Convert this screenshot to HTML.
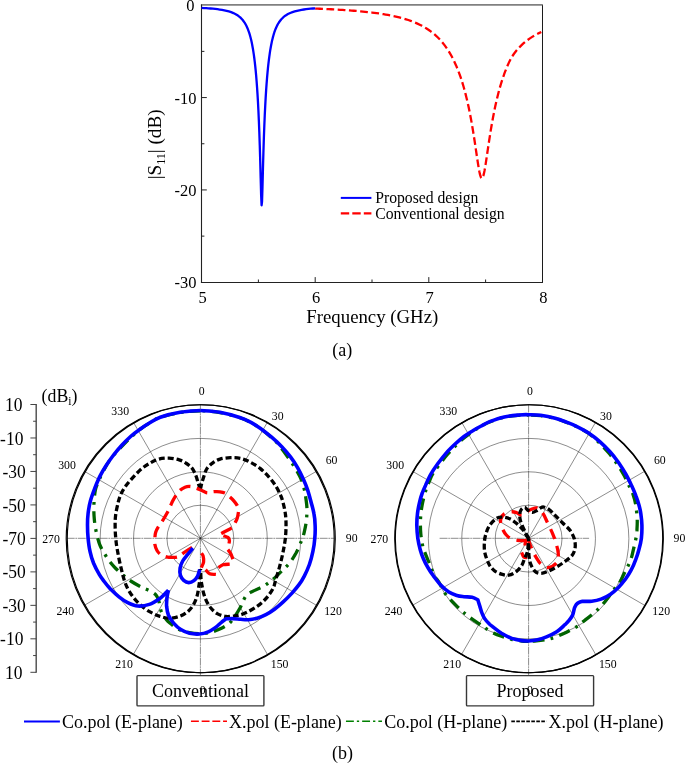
<!DOCTYPE html>
<html><head><meta charset="utf-8"><title>figure</title>
<style>html,body{margin:0;padding:0;background:#fff;}body{width:685px;height:764px;overflow:hidden;position:relative;font-family:"Liberation Serif",serif;}</style></head>
<body>
<svg width="685" height="764" viewBox="0 0 685 764" style="position:absolute;left:0;top:0;will-change:transform" font-family="'Liberation Serif', serif" fill="#000">
<rect width="685" height="764" fill="#fff"/>
<line x1="200.9" y1="4.95" x2="542.9" y2="4.95" stroke="#808080" stroke-width="1.7"/>
<line x1="542.5" y1="5.2" x2="542.5" y2="282.90000000000003" stroke="#1c1c1c" stroke-width="1.0"/>
<line x1="201.5" y1="4.5" x2="201.5" y2="283.05" stroke="#222" stroke-width="1.1"/>
<line x1="200.95" y1="282.5" x2="543.0" y2="282.5" stroke="#222" stroke-width="1.1"/>
<line x1="201.6" y1="51.38" x2="204.4" y2="51.38" stroke="#222" stroke-width="1"/>
<line x1="201.6" y1="97.57" x2="206.79999999999998" y2="97.57" stroke="#222" stroke-width="1"/>
<line x1="201.6" y1="143.75" x2="204.4" y2="143.75" stroke="#222" stroke-width="1"/>
<line x1="201.6" y1="189.93" x2="206.79999999999998" y2="189.93" stroke="#222" stroke-width="1"/>
<line x1="201.6" y1="236.12" x2="204.4" y2="236.12" stroke="#222" stroke-width="1"/>
<line x1="258.40" y1="282.3" x2="258.40" y2="279.5" stroke="#222" stroke-width="1"/>
<line x1="315.20" y1="282.3" x2="315.20" y2="277.1" stroke="#222" stroke-width="1"/>
<line x1="372.00" y1="282.3" x2="372.00" y2="279.5" stroke="#222" stroke-width="1"/>
<line x1="428.80" y1="282.3" x2="428.80" y2="277.1" stroke="#222" stroke-width="1"/>
<line x1="485.60" y1="282.3" x2="485.60" y2="279.5" stroke="#222" stroke-width="1"/>
<text transform="translate(194.40,11.20) scale(1,1.065)" font-size="16.5" text-anchor="end">0</text>
<text transform="translate(196.60,103.57) scale(1,1.065)" font-size="16.5" text-anchor="end">-10</text>
<text transform="translate(196.60,195.93) scale(1,1.065)" font-size="16.5" text-anchor="end">-20</text>
<text transform="translate(196.60,288.30) scale(1,1.065)" font-size="16.5" text-anchor="end">-30</text>
<text transform="translate(202.50,302.50) scale(1,1.065)" font-size="16.5" text-anchor="middle">5</text>
<text transform="translate(316.10,302.50) scale(1,1.065)" font-size="16.5" text-anchor="middle">6</text>
<text transform="translate(429.70,302.50) scale(1,1.065)" font-size="16.5" text-anchor="middle">7</text>
<text transform="translate(543.30,302.50) scale(1,1.065)" font-size="16.5" text-anchor="middle">8</text>
<text x="372.3" y="322.8" font-size="18.8" text-anchor="middle">Frequency (GHz)</text>
<text transform="translate(161,144.3) rotate(-90)" font-size="19.2" text-anchor="middle">|S<tspan font-size="12" dy="3.5">11</tspan><tspan dy="-3.5">| (dB)</tspan></text>
<text x="342.2" y="355.9" font-size="18" text-anchor="middle">(a)</text>
<path d="M315.20,8.56L317.47,8.65L319.74,8.75L322.02,8.84L324.29,8.94L326.56,9.05L328.83,9.16L331.10,9.27L333.38,9.39L335.65,9.52L337.92,9.65L340.19,9.78L342.46,9.92L344.74,10.07L347.01,10.23L349.28,10.39L351.55,10.56L353.82,10.74L356.10,10.93L358.37,11.12L360.64,11.33L362.91,11.55L365.18,11.78L367.46,12.02L369.73,12.28L372.00,12.55L374.27,12.83L376.54,13.13L378.82,13.45L381.09,13.79L383.36,14.15L385.63,14.53L387.90,14.93L390.18,15.36L392.45,15.82L394.72,16.30L396.99,16.82L399.26,17.38L401.54,17.98L403.81,18.61L406.08,19.30L408.35,20.03L410.62,20.82L412.90,21.68L415.17,22.59L417.44,23.59L419.71,24.66L421.98,25.83L424.26,27.09L426.53,28.47L428.80,29.96L431.07,31.60L433.34,33.39L435.62,35.35L437.89,37.50L440.16,39.86L442.43,42.47L444.70,45.36L446.98,48.55L449.25,52.10L451.52,56.04L453.79,60.45L456.06,65.40L458.34,70.95L460.61,77.23L461.18,78.92L461.74,80.67L462.31,82.47L462.88,84.34L463.45,86.26L464.02,88.25L464.58,90.31L465.15,92.44L465.72,94.64L466.29,96.92L466.86,99.27L467.42,101.71L467.99,104.24L468.56,106.86L469.13,109.56L469.70,112.37L470.26,115.27L470.83,118.28L471.40,121.40L471.97,124.62L472.54,127.94L473.10,131.38L473.67,134.92L474.24,138.55L474.81,142.28L475.38,146.08L475.94,149.93L476.51,153.79L477.08,157.64L477.65,161.42L478.22,165.04L478.78,168.44L479.35,171.51L479.92,174.14L480.49,176.21L481.06,177.63L481.62,178.33L482.19,178.25L482.76,177.41L483.33,175.85L483.90,173.65L484.46,170.93L485.03,167.79L485.60,164.33L486.17,160.67L486.74,156.88L487.30,153.02L487.87,149.15L488.44,145.31L489.01,141.53L489.58,137.82L490.14,134.20L490.71,130.68L491.28,127.27L491.85,123.96L492.42,120.76L492.98,117.67L493.55,114.69L494.12,111.80L494.69,109.01L495.26,106.32L495.82,103.73L496.39,101.22L496.96,98.80L497.53,96.46L498.10,94.20L498.66,92.01L499.23,89.90L499.80,87.85L500.37,85.87L500.94,83.96L501.50,82.11L502.07,80.31L502.64,78.58L503.21,76.89L503.78,75.26L504.34,73.68L504.91,72.15L507.18,66.46L509.46,61.40L511.73,57.05L514.00,53.77L516.27,50.83L518.54,48.20L520.82,45.83L523.09,43.68L525.36,41.74L527.63,39.96L529.90,38.34L532.18,36.86L534.45,35.50L536.72,34.25L538.99,33.09L541.26,32.02" fill="none" stroke="#f00" stroke-width="2.3" stroke-dasharray="7.74 3.52"/>
<path d="M201.60,7.91L203.87,8.04L206.14,8.18L208.42,8.34L210.69,8.52L212.96,8.72L215.23,8.95L217.50,9.22L219.78,9.54L222.05,9.90L224.32,10.33L226.59,10.83L228.86,11.44L231.14,12.18L233.41,13.08L235.68,14.20L237.95,15.60L240.22,17.41L242.50,19.76L244.77,22.90L245.22,23.65L245.68,24.45L246.13,25.30L246.59,26.21L247.04,27.18L247.49,28.22L247.95,29.33L248.40,30.53L248.86,31.81L249.31,33.18L249.77,34.67L250.22,36.26L250.68,37.99L251.13,39.85L251.58,41.87L252.04,44.05L252.49,46.43L252.95,49.01L253.40,51.82L253.86,54.90L254.31,58.26L254.76,61.95L255.22,66.00L255.67,70.47L256.13,75.42L256.58,80.92L257.04,87.04L257.49,93.90L257.95,101.64L258.40,110.41L258.85,120.43L259.31,131.96L259.76,145.30L260.22,160.69L260.67,177.92L261.13,194.94L261.58,205.32L262.04,201.55L262.49,186.73L262.94,169.13L263.40,152.73L263.85,138.38L264.31,125.99L264.76,115.25L265.22,105.88L265.67,97.65L266.12,90.37L266.58,83.89L267.03,78.10L267.49,72.88L267.94,68.18L268.40,63.93L268.85,60.06L269.31,56.54L269.76,53.33L270.21,50.39L270.67,47.69L271.12,45.22L271.58,42.94L272.03,40.84L272.49,38.90L272.94,37.11L273.40,35.45L273.85,33.91L274.30,32.48L274.76,31.15L275.21,29.92L275.67,28.77L276.12,27.69L276.58,26.69L277.03,25.75L277.48,24.87L277.94,24.04L278.39,23.27L278.85,22.54L281.12,19.50L283.39,17.21L285.66,15.45L287.94,14.07L290.21,12.98L292.48,12.10L294.75,11.38L297.02,10.78L299.30,10.28L301.57,9.86L303.84,9.50L306.11,9.19L308.38,8.93L310.66,8.70L312.93,8.50L315.20,8.32" fill="none" stroke="#00f" stroke-width="2.3" stroke-linejoin="round"/>
<line x1="340.8" y1="197.9" x2="371.4" y2="197.9" stroke="#00f" stroke-width="2"/>
<line x1="340.8" y1="213.4" x2="371.4" y2="213.4" stroke="#f00" stroke-width="2.3" stroke-dasharray="8.4 3.1"/>
<text x="375.2" y="203" font-size="15.7">Proposed design</text>
<text x="375.2" y="218.8" font-size="15.7">Conventional design</text>
<line x1="36.2" y1="404.0" x2="36.2" y2="672.8" stroke="#4a4a4a" stroke-width="1.4"/>
<line x1="30.400000000000002" y1="404.50" x2="36.2" y2="404.50" stroke="#444" stroke-width="1"/>
<text transform="translate(22.50,411.10) scale(1,1.12)" font-size="17.5" text-anchor="end">10</text>
<line x1="33.1" y1="421.24" x2="36.2" y2="421.24" stroke="#444" stroke-width="1"/>
<line x1="30.400000000000002" y1="437.98" x2="36.2" y2="437.98" stroke="#444" stroke-width="1"/>
<text transform="translate(23.40,444.58) scale(1,1.12)" font-size="17.5" text-anchor="end">-10</text>
<line x1="33.1" y1="454.71" x2="36.2" y2="454.71" stroke="#444" stroke-width="1"/>
<line x1="30.400000000000002" y1="471.45" x2="36.2" y2="471.45" stroke="#444" stroke-width="1"/>
<text transform="translate(25.80,478.05) scale(1,1.12)" font-size="17.5" text-anchor="end">-30</text>
<line x1="33.1" y1="488.19" x2="36.2" y2="488.19" stroke="#444" stroke-width="1"/>
<line x1="30.400000000000002" y1="504.92" x2="36.2" y2="504.92" stroke="#444" stroke-width="1"/>
<text transform="translate(25.80,511.52) scale(1,1.12)" font-size="17.5" text-anchor="end">-50</text>
<line x1="33.1" y1="521.66" x2="36.2" y2="521.66" stroke="#444" stroke-width="1"/>
<line x1="30.400000000000002" y1="538.40" x2="36.2" y2="538.40" stroke="#444" stroke-width="1"/>
<text transform="translate(25.80,545.00) scale(1,1.12)" font-size="17.5" text-anchor="end">-70</text>
<line x1="33.1" y1="555.14" x2="36.2" y2="555.14" stroke="#444" stroke-width="1"/>
<line x1="30.400000000000002" y1="571.88" x2="36.2" y2="571.88" stroke="#444" stroke-width="1"/>
<text transform="translate(25.80,578.48) scale(1,1.12)" font-size="17.5" text-anchor="end">-50</text>
<line x1="33.1" y1="588.61" x2="36.2" y2="588.61" stroke="#444" stroke-width="1"/>
<line x1="30.400000000000002" y1="605.35" x2="36.2" y2="605.35" stroke="#444" stroke-width="1"/>
<text transform="translate(25.80,611.95) scale(1,1.12)" font-size="17.5" text-anchor="end">-30</text>
<line x1="33.1" y1="622.09" x2="36.2" y2="622.09" stroke="#444" stroke-width="1"/>
<line x1="30.400000000000002" y1="638.82" x2="36.2" y2="638.82" stroke="#444" stroke-width="1"/>
<text transform="translate(23.40,645.42) scale(1,1.12)" font-size="17.5" text-anchor="end">-10</text>
<line x1="33.1" y1="655.56" x2="36.2" y2="655.56" stroke="#444" stroke-width="1"/>
<line x1="30.400000000000002" y1="672.30" x2="36.2" y2="672.30" stroke="#444" stroke-width="1"/>
<text transform="translate(22.50,678.90) scale(1,1.12)" font-size="17.5" text-anchor="end">10</text>
<text x="41.6" y="401.8" font-size="17.8">(dB<tspan font-size="11.5" dy="2.8">i</tspan><tspan dy="-2.8">)</tspan></text>
<circle cx="200.4" cy="538.65" r="33.42" fill="none" stroke="#1a1a1a" stroke-width="0.5"/>
<circle cx="200.4" cy="538.65" r="66.85" fill="none" stroke="#1a1a1a" stroke-width="0.5"/>
<circle cx="200.4" cy="538.65" r="100.27" fill="none" stroke="#1a1a1a" stroke-width="0.5"/>
<line x1="200.4" y1="404.59999999999997" x2="200.4" y2="675.0" stroke="#1a1a1a" stroke-width="0.5" stroke-dasharray="8 0.7 1.6 0.7"/>
<line x1="133.55" y1="654.09" x2="267.25" y2="422.51" stroke="#1a1a1a" stroke-width="0.5"/>
<line x1="84.61" y1="605.15" x2="316.19" y2="471.45" stroke="#1a1a1a" stroke-width="0.5"/>
<line x1="66.70" y1="538.30" x2="334.10" y2="538.30" stroke="#1a1a1a" stroke-width="0.5" stroke-dasharray="8 0.7 1.6 0.7"/>
<line x1="84.61" y1="471.45" x2="316.19" y2="605.15" stroke="#1a1a1a" stroke-width="0.5"/>
<line x1="133.55" y1="422.51" x2="267.25" y2="654.09" stroke="#1a1a1a" stroke-width="0.5"/>
<circle cx="200.21" cy="538.75" r="134.0" fill="none" stroke="#000" stroke-width="1.15"/>
<circle cx="201.26" cy="538.75" r="134.0" fill="none" stroke="#000" stroke-width="1.15"/>
<circle cx="528.6" cy="538.65" r="33.42" fill="none" stroke="#1a1a1a" stroke-width="0.5"/>
<circle cx="528.6" cy="538.65" r="66.85" fill="none" stroke="#1a1a1a" stroke-width="0.5"/>
<circle cx="528.6" cy="538.65" r="100.27" fill="none" stroke="#1a1a1a" stroke-width="0.5"/>
<line x1="528.6" y1="404.59999999999997" x2="528.6" y2="675.0" stroke="#1a1a1a" stroke-width="0.5" stroke-dasharray="8 0.7 1.6 0.7"/>
<line x1="461.75" y1="654.09" x2="595.45" y2="422.51" stroke="#1a1a1a" stroke-width="0.5"/>
<line x1="412.81" y1="605.15" x2="644.39" y2="471.45" stroke="#1a1a1a" stroke-width="0.5"/>
<line x1="439.6" y1="538.3" x2="589.1" y2="538.3" stroke="#1a1a1a" stroke-width="0.5" stroke-dasharray="8 0.7 1.6 0.7"/>
<line x1="412.81" y1="471.45" x2="644.39" y2="605.15" stroke="#1a1a1a" stroke-width="0.5"/>
<line x1="461.75" y1="422.51" x2="595.45" y2="654.09" stroke="#1a1a1a" stroke-width="0.5"/>
<circle cx="528.73" cy="538.75" r="134.0" fill="none" stroke="#000" stroke-width="1.15"/>
<circle cx="529.33" cy="538.75" r="134.0" fill="none" stroke="#000" stroke-width="1.15"/>
<path d="M200.4,410.8C207.1,410.8 213.4,411.4 220.0,412.6C226.6,413.8 234.7,416.1 240.0,417.8C245.3,419.5 248.0,420.9 251.7,422.9C255.3,424.9 258.7,427.2 261.9,429.6C265.1,432.0 268.6,435.1 271.0,437.2C273.4,439.3 273.9,439.2 276.5,442.3C279.1,445.4 283.5,451.1 286.7,455.5C289.9,459.9 293.1,464.6 295.5,468.6C297.9,472.6 299.9,476.2 301.3,479.6C302.8,483.0 303.5,486.5 304.2,489.1C304.9,491.7 304.9,491.9 305.4,495.0C305.8,498.1 306.7,503.2 306.9,507.5C307.1,511.8 306.8,516.6 306.4,520.7C305.9,524.8 305.0,528.9 304.2,532.3C303.4,535.7 302.6,537.7 301.3,541.1C300.0,544.5 298.1,549.1 296.2,552.8C294.2,556.4 291.9,560.1 289.6,563.0C287.3,565.9 284.7,567.9 282.3,570.3C279.9,572.7 277.1,575.6 275.0,577.6C272.9,579.6 271.5,580.5 269.5,582.0C267.5,583.5 265.7,585.0 263.0,586.5C260.3,588.0 256.2,589.4 253.5,590.9C250.8,592.4 248.4,593.4 246.6,595.3C244.8,597.2 243.6,600.4 242.5,602.5C241.4,604.6 241.3,605.7 240.0,608.0C238.7,610.3 236.6,613.9 234.7,616.5C232.8,619.1 231.5,621.6 228.8,623.8C226.1,626.0 221.8,628.1 218.6,629.6C215.4,631.1 213.1,631.9 209.9,632.6C206.7,633.3 203.0,633.7 199.6,633.7C196.2,633.7 192.8,633.3 189.4,632.6C186.0,631.9 182.5,631.2 179.2,629.6C175.9,628.0 171.7,624.6 169.5,622.8C167.3,621.0 167.2,620.6 165.8,618.8C164.5,617.0 162.4,614.1 161.4,611.8C160.4,609.5 160.2,606.9 159.7,604.8C159.2,602.7 158.9,600.8 158.2,599.0C157.5,597.2 156.7,595.6 155.3,594.3C153.9,593.0 152.2,592.2 150.0,591.0C147.8,589.8 144.9,588.9 141.8,587.3C138.7,585.7 134.4,583.4 131.5,581.5C128.6,579.6 127.1,578.6 124.2,576.1C121.3,573.6 116.9,569.8 114.0,566.6C111.1,563.5 109.0,560.7 106.7,557.2C104.4,553.7 101.8,549.5 100.1,545.5C98.4,541.5 97.5,537.5 96.5,533.1C95.5,528.7 94.7,524.0 94.3,519.2C93.9,514.5 93.7,509.5 93.9,504.6C94.1,499.7 94.6,493.9 95.4,490.0C96.2,486.1 97.3,484.3 98.7,481.0C100.1,477.7 101.7,473.9 103.8,470.1C105.9,466.3 107.7,462.8 111.1,458.4C114.5,454.0 120.9,447.3 124.2,443.8C127.5,440.3 128.4,439.6 131.0,437.2C133.6,434.8 136.6,431.9 139.6,429.6C142.6,427.3 145.6,425.3 149.0,423.3C152.4,421.3 154.8,419.3 160.0,417.5C165.2,415.7 173.3,413.7 180.0,412.6C186.7,411.5 193.7,410.8 200.4,410.8Z" fill="none" stroke="#006400" stroke-width="3.3" stroke-dasharray="11.7 6.4 2.8 6.3" stroke-dashoffset="16"/>
<path d="M200.3,489.4C200.0,488.4 198.9,485.4 198.2,483.2C197.5,480.9 197.0,478.3 196.0,475.9C195.0,473.5 193.9,470.7 192.3,468.6C190.7,466.5 188.7,464.9 186.5,463.5C184.3,462.1 182.1,460.8 179.2,459.9C176.3,459.0 172.4,458.2 169.0,458.1C165.6,458.0 161.9,458.3 158.8,459.1C155.7,459.9 153.1,461.3 150.3,462.9C147.5,464.5 144.7,466.2 141.8,468.6C138.9,471.0 135.7,474.5 133.0,477.4C130.3,480.3 127.7,483.4 125.7,486.1C123.8,488.8 122.5,490.8 121.3,493.4C120.1,496.0 119.4,497.7 118.4,501.5C117.4,505.3 116.0,511.6 115.5,516.3C115.0,520.9 115.1,525.0 115.2,529.4C115.3,533.8 115.7,538.2 116.2,542.6C116.7,547.0 117.6,551.3 118.4,555.7C119.2,560.1 120.3,564.8 121.3,568.8C122.3,572.8 123.0,576.4 124.2,580.0C125.4,583.6 126.6,586.8 128.6,590.2C130.5,593.6 133.2,597.4 135.9,600.4C138.6,603.4 141.8,606.3 144.7,608.5C147.6,610.7 150.8,612.3 153.4,613.6C156.0,614.9 157.4,615.5 160.0,616.3C162.6,617.1 165.8,618.2 169.0,618.2C172.2,618.2 176.0,617.6 179.2,616.5C182.4,615.4 185.6,613.5 188.0,611.4C190.4,609.3 192.2,606.9 193.8,604.1C195.4,601.3 196.6,597.7 197.4,594.6C198.2,591.5 198.5,588.2 198.9,585.8C199.3,583.4 199.5,582.8 199.7,580.0C199.9,577.2 200.1,570.8 200.2,569.0" fill="none" stroke="#000" stroke-width="3.3" stroke-dasharray="5.9 2.9"/>
<path d="M200.3,489.4C200.6,488.4 201.2,485.4 201.8,483.2C202.4,480.9 203.2,478.3 204.0,475.9C204.8,473.5 205.4,470.8 206.9,468.6C208.4,466.4 210.6,464.4 212.8,462.8C215.0,461.2 217.2,460.0 220.1,459.1C223.0,458.2 226.9,457.8 230.3,457.7C233.7,457.6 237.2,457.7 240.5,458.4C243.8,459.1 246.7,460.3 250.0,462.0C253.3,463.7 257.2,466.0 260.4,468.6C263.6,471.2 266.6,474.5 269.2,477.4C271.8,480.3 274.0,483.3 275.8,486.1C277.6,488.9 278.9,491.6 280.1,494.2C281.3,496.8 281.9,498.1 282.8,501.5C283.7,504.9 285.0,510.4 285.5,514.8C286.0,519.2 286.1,523.6 286.0,528.0C285.9,532.4 285.6,536.7 285.0,541.1C284.4,545.5 283.5,549.8 282.6,554.2C281.7,558.6 280.5,563.2 279.4,567.4C278.3,571.6 276.8,576.2 275.8,579.5C274.8,582.8 274.7,584.8 273.6,587.3C272.5,589.8 270.9,592.3 269.2,594.6C267.5,596.9 265.6,599.1 263.4,601.2C261.2,603.3 258.8,605.2 256.1,607.0C253.4,608.8 250.0,610.8 247.3,612.1C244.6,613.4 242.1,614.4 240.0,615.0C237.9,615.6 237.0,615.5 234.7,615.8C232.3,616.0 228.8,616.9 225.9,616.5C223.0,616.1 219.6,614.9 217.2,613.6C214.8,612.3 213.0,610.5 211.3,608.5C209.6,606.5 208.1,604.2 206.9,601.9C205.7,599.6 204.8,597.0 204.0,594.6C203.2,592.2 202.8,589.7 202.3,587.3C201.8,584.9 201.4,583.0 201.1,580.0C200.8,577.0 200.7,570.8 200.6,569.0" fill="none" stroke="#000" stroke-width="3.3" stroke-dasharray="5.9 2.9"/>
<path d="M200.4,489.8C199.8,489.6 198.4,488.9 196.7,488.4C195.0,487.8 192.2,486.7 190.3,486.5C188.4,486.3 186.8,486.5 185.0,487.2C183.2,487.9 181.2,489.2 179.7,490.6C178.2,492.0 177.0,493.9 175.8,495.6C174.7,497.3 173.7,499.0 172.8,500.8C171.9,502.6 171.2,504.3 170.3,506.2C169.4,508.1 168.9,509.7 167.5,512.3C166.1,514.9 163.5,519.3 161.9,521.8C160.3,524.3 159.1,525.5 158.0,527.3C156.9,529.1 156.1,530.7 155.6,532.5C155.1,534.3 155.0,535.9 154.9,537.9C154.8,539.9 154.6,542.5 154.9,544.6C155.2,546.7 156.0,548.8 157.0,550.5C158.0,552.2 159.2,553.6 160.8,554.6C162.4,555.6 164.5,556.3 166.4,556.8C168.3,557.3 170.1,557.4 172.0,557.4C173.9,557.4 176.2,557.5 178.1,556.8C180.0,556.0 181.1,554.6 183.6,552.9C186.1,551.2 191.5,547.8 193.1,546.8" fill="none" stroke="#f00" stroke-width="3.3" stroke-dasharray="11.4 6.5" stroke-dashoffset="7.4"/>
<path d="M200.4,489.8C201.0,490.1 202.8,491.1 204.0,491.6C205.2,492.1 206.2,492.7 207.3,492.8C208.4,492.9 209.4,492.7 210.5,492.5C211.6,492.3 212.3,491.8 213.9,491.7C215.5,491.6 218.1,491.5 220.0,491.8C221.9,492.1 224.0,492.6 225.6,493.4C227.2,494.2 228.1,495.5 229.5,496.7C230.9,497.9 232.5,499.3 233.8,500.8C235.1,502.3 236.5,504.2 237.3,505.6C238.1,507.0 238.4,507.9 238.6,509.0C238.8,510.1 238.6,510.8 238.4,512.3C238.2,513.8 237.9,516.2 237.3,518.0C236.8,519.8 235.5,522.1 235.1,522.9" fill="none" stroke="#f00" stroke-width="3.3" stroke-dasharray="11.4 6.5" stroke-dashoffset="3.9"/>
<path d="M231.8,527.9C230.0,528.8 223.0,532.6 221.2,533.5" fill="none" stroke="#f00" stroke-width="3.3"/>
<path d="M223.4,535.7C224.2,536.0 226.9,536.6 227.9,537.4C228.9,538.2 229.2,539.3 229.4,540.3C229.6,541.3 229.1,543.0 229.0,543.5" fill="none" stroke="#f00" stroke-width="3.3"/>
<path d="M227.9,549.6C228.4,550.2 229.9,551.9 230.7,553.5C231.5,555.1 232.5,558.2 232.9,559.1" fill="none" stroke="#f00" stroke-width="3.3"/>
<path d="M229.7,564.2C228.6,564.3 224.9,564.2 223.0,564.8C221.1,565.4 219.2,567.1 218.4,567.6" fill="none" stroke="#f00" stroke-width="3.3"/>
<path d="M215.9,574.3C214.9,574.2 211.4,574.6 209.7,573.8C208.0,573.0 206.4,570.4 205.7,569.7" fill="none" stroke="#f00" stroke-width="3.3"/>
<path d="M201.3,567.6C201.7,566.7 203.3,564.0 203.6,562.0C203.9,560.0 203.5,557.4 203.1,555.9C202.7,554.4 201.7,553.7 201.4,553.3" fill="none" stroke="#f00" stroke-width="3.3"/>
<path d="M200.4,410.5C203.7,410.8 213.3,411.1 219.9,412.3C226.4,413.5 234.5,415.8 239.7,417.5C245.0,419.2 247.7,420.7 251.4,422.6C255.0,424.6 258.1,426.8 261.5,429.2C264.9,431.6 268.2,434.3 271.6,437.2C275.0,440.1 278.6,443.4 281.8,446.7C284.9,450.0 287.8,453.4 290.5,456.9C293.2,460.4 295.6,464.1 297.7,467.9C299.9,471.7 301.9,476.0 303.5,479.6C305.1,483.2 306.3,486.0 307.5,489.6C308.7,493.2 309.7,497.0 310.8,501.0C311.8,505.0 313.2,509.4 313.9,513.4C314.7,517.4 315.0,520.9 315.1,525.0C315.3,529.1 315.2,533.8 314.8,538.2C314.5,542.6 313.9,546.9 312.9,551.3C312.0,555.7 310.8,560.4 309.4,564.5C307.9,568.6 306.0,572.8 304.3,576.1C302.6,579.4 301.3,581.6 299.2,584.4C297.2,587.2 294.6,590.2 292.0,593.1C289.3,596.0 286.2,599.2 283.2,601.9C280.3,604.6 277.4,607.1 274.5,609.2C271.6,611.3 268.8,613.2 265.9,614.7C263.0,616.2 260.0,617.4 257.1,618.2C254.2,619.0 251.2,619.5 248.5,619.7C245.7,619.9 243.3,619.5 240.7,619.3C238.1,619.1 235.2,618.7 232.8,618.6C230.3,618.5 228.3,618.7 226.1,618.8C224.5,620.0 223.1,620.9 221.4,622.3C219.6,623.7 217.8,625.8 215.6,627.4C213.4,629.0 211.0,630.7 208.3,631.8C205.7,632.9 202.8,633.8 199.6,634.0C196.5,634.2 192.6,634.0 189.5,633.3C186.4,632.6 183.5,631.3 180.8,629.6C178.2,627.9 175.7,625.5 173.6,623.1C171.5,620.7 169.6,617.8 168.4,615.0C167.3,612.2 166.9,609.2 166.6,606.3C166.4,603.4 166.7,600.2 167.0,597.5C167.3,594.8 168.2,591.4 168.4,590.2" fill="none" stroke="#00f" stroke-width="3.6" stroke-linejoin="round"/>
<path d="M168.4,590.2C167.8,590.8 166.4,592.4 164.8,593.9C163.3,595.4 161.7,597.2 159.1,599.0C156.5,600.8 152.9,603.2 149.4,604.4C145.8,605.6 141.4,606.3 137.8,606.0C134.2,605.7 130.8,604.1 127.7,602.6C124.6,601.1 121.9,599.1 119.0,596.8C116.0,594.5 112.7,591.3 110.2,588.8C107.8,586.2 106.0,583.9 104.2,581.5C102.4,579.1 101.2,577.8 99.4,574.7C97.6,571.6 95.1,566.9 93.5,563.0C92.0,559.1 90.9,555.4 90.0,551.3C89.0,547.2 88.5,542.6 88.1,538.2C87.7,533.8 87.5,529.1 87.5,525.0C87.5,520.9 87.6,517.4 88.1,513.4C88.6,509.4 89.2,505.3 90.4,501.0C91.5,496.7 93.4,491.8 95.0,487.6C96.7,483.4 98.3,479.5 100.1,475.9C101.9,472.2 103.8,469.1 106.0,465.7C108.1,462.3 110.6,458.9 113.2,455.5C115.8,452.1 118.9,448.5 121.8,445.3C124.7,442.1 127.6,439.2 130.6,436.5C133.6,433.8 136.9,431.4 140.0,429.2C143.2,426.9 146.0,425.0 149.4,423.0C152.7,421.0 155.2,419.0 160.3,417.2C165.4,415.4 173.5,413.4 180.1,412.3C186.8,411.2 197.0,410.8 200.4,410.5" fill="none" stroke="#00f" stroke-width="3.6" stroke-linejoin="round"/>
<path d="M192.9,548.2C192.0,549.3 189.0,552.8 187.3,554.9C185.6,557.0 183.9,558.8 182.7,561.0C181.5,563.2 180.5,565.7 180.1,568.1C179.7,570.5 179.8,573.2 180.4,575.3C181.0,577.3 182.3,579.2 183.7,580.4C185.1,581.6 187.1,582.6 188.8,582.6C190.5,582.6 192.5,581.7 193.9,580.6C195.3,579.5 196.5,578.1 197.5,576.3C198.5,574.5 199.3,570.7 199.7,569.6" fill="none" stroke="#00f" stroke-width="3.6"/>
<path d="M528.6,415.0C530.6,415.1 536.2,415.0 540.7,415.6C545.2,416.2 551.1,417.4 555.3,418.5C559.5,419.6 562.4,420.8 566.0,422.2C569.6,423.6 573.0,424.8 576.7,426.6C580.4,428.4 584.7,430.6 588.4,433.2C592.1,435.8 595.6,439.2 599.0,442.5C602.4,445.8 605.8,449.4 608.8,453.0C611.8,456.6 614.6,460.2 617.2,464.0C619.8,467.8 622.2,471.9 624.3,475.8C626.4,479.7 628.4,484.5 629.8,487.5C631.2,490.5 631.8,490.8 632.8,493.6C633.8,496.5 635.0,500.3 635.7,504.6C636.4,508.9 637.0,514.8 637.2,519.2C637.4,523.6 637.1,527.5 636.9,530.9C636.6,534.3 636.3,536.4 635.7,539.6C635.1,542.8 634.0,547.1 633.3,550.0C632.6,552.9 632.4,554.6 631.6,557.0C630.8,559.4 629.8,562.2 628.7,564.6C627.6,567.0 626.5,568.9 625.1,571.6C623.7,574.3 622.1,578.3 620.5,581.0C618.9,583.7 617.0,585.7 615.2,588.0C613.5,590.3 611.8,592.7 610.0,595.0C608.2,597.3 606.6,599.8 604.7,602.0C602.9,604.2 601.0,606.4 598.9,608.4C596.8,610.4 594.8,612.2 592.4,614.2C590.0,616.2 586.7,618.8 584.3,620.7C581.9,622.7 580.2,624.3 577.8,625.9C575.4,627.5 572.5,629.0 570.0,630.4C567.5,631.8 565.4,632.8 562.7,634.0C560.0,635.2 556.6,636.8 553.9,637.7C551.2,638.6 549.5,639.0 546.6,639.5C543.7,640.0 539.4,640.5 536.4,640.8C533.4,641.1 529.7,641.2 528.4,641.3" fill="none" stroke="#006400" stroke-width="3.3" stroke-dasharray="11.7 6.4 2.8 6.3" stroke-dashoffset="24.7"/>
<path d="M528.4,641.3C527.3,641.2 524.6,641.3 521.8,641.0C519.0,640.7 515.0,640.1 511.6,639.3C508.2,638.5 504.6,637.3 501.4,636.2C498.2,635.1 495.4,634.0 492.6,632.6C489.8,631.2 487.0,629.2 484.7,627.7C482.4,626.2 481.4,625.4 478.9,623.6C476.4,621.9 472.2,619.2 469.6,617.2C467.0,615.2 465.2,613.7 463.1,611.9C461.1,610.1 459.4,608.6 457.3,606.6C455.2,604.6 452.4,601.9 450.3,599.6C448.2,597.3 446.4,595.4 444.5,592.6C442.6,589.8 440.8,585.3 439.2,582.7C437.6,580.1 436.4,579.1 435.1,576.9C433.8,574.7 432.7,571.8 431.6,569.3C430.5,566.8 429.9,564.6 428.7,561.7C427.5,558.8 425.6,554.5 424.6,551.8C423.6,549.1 423.2,548.5 422.6,545.5C422.0,542.5 421.2,538.2 420.8,533.8C420.4,529.4 420.3,524.1 420.5,519.2C420.7,514.3 421.3,509.5 422.2,504.6C423.1,499.7 424.8,493.8 425.9,490.0C427.0,486.2 427.8,484.8 429.0,482.0C430.2,479.2 431.2,476.4 433.0,473.5C434.8,470.6 437.0,467.8 439.5,464.5C442.0,461.2 445.0,457.2 447.8,454.0C450.6,450.8 453.5,447.8 456.3,445.0C459.1,442.2 461.8,439.8 464.6,437.5C467.4,435.2 470.3,433.1 473.0,431.2C475.7,429.3 478.2,427.8 481.0,426.3C483.8,424.8 485.7,423.5 489.6,422.0C493.5,420.5 499.3,418.4 504.2,417.3C509.1,416.2 514.7,415.7 518.8,415.3C522.9,414.9 527.0,415.1 528.6,415.0" fill="none" stroke="#006400" stroke-width="3.3" stroke-dasharray="11.7 6.4 2.8 6.3" stroke-dashoffset="2.5"/>
<path d="M528.6,538.4C528.1,538.8 527.4,540.2 525.5,540.5C523.6,540.8 519.7,540.6 517.2,540.3C514.7,540.0 512.4,539.4 510.6,538.5C508.8,537.6 507.5,536.4 506.3,535.0C505.1,533.6 504.1,532.1 503.2,530.2C502.3,528.3 501.2,525.6 500.8,523.6C500.4,521.6 500.4,520.0 501.0,518.4C501.6,516.8 502.4,515.1 504.1,514.0C505.9,512.9 509.4,512.0 511.5,511.8C513.6,511.6 515.0,512.1 516.8,512.7C518.5,513.3 520.1,515.6 522.0,515.3C523.9,515.0 526.5,512.0 528.2,510.9C530.0,509.8 530.9,509.2 532.5,508.8C534.1,508.4 536.0,507.5 537.8,508.3C539.5,509.1 541.4,511.2 543.0,513.5C544.6,515.8 545.7,519.0 547.3,522.3C548.9,525.6 551.0,529.8 552.5,533.3C554.0,536.8 555.1,540.1 556.1,543.5C557.1,546.9 558.2,550.5 558.3,553.7C558.4,556.9 558.5,560.2 556.8,562.5C555.1,564.8 550.8,567.4 548.1,567.6C545.4,567.8 542.9,565.7 540.8,563.9C538.7,562.1 537.2,559.0 535.7,556.6C534.2,554.2 533.1,551.7 532.0,549.3C530.9,546.9 529.7,543.8 529.1,542.0C528.5,540.2 528.7,539.0 528.6,538.4" fill="none" stroke="#f00" stroke-width="3.3" stroke-dasharray="10.7 7.2" stroke-dashoffset="15.8"/>
<path d="M526.0,540.6C525.9,541.0 525.5,542.2 525.3,543.0C525.1,543.8 525.0,545.2 525.0,545.6" fill="none" stroke="#f00" stroke-width="3.3"/>
<path d="M521.6,552.5C522.0,553.2 522.8,556.0 523.8,556.9C524.8,557.8 526.7,557.6 527.3,557.8" fill="none" stroke="#f00" stroke-width="3.3"/>
<path d="M528.6,538.4C528.4,538.1 528.2,538.2 527.3,536.8C526.3,535.4 524.6,532.0 522.9,529.8C521.1,527.6 519.0,525.4 516.8,523.6C514.6,521.8 512.3,519.9 509.8,518.8C507.3,517.7 504.2,517.1 501.9,517.1C499.6,517.1 497.9,517.4 495.8,518.8C493.8,520.2 491.2,523.0 489.6,525.4C488.0,527.8 487.0,530.5 486.1,533.3C485.2,536.1 484.6,538.8 484.4,542.0C484.2,545.2 484.1,548.9 484.8,552.5C485.6,556.1 487.3,560.9 488.9,563.9C490.4,566.9 492.0,568.8 494.1,570.5C496.2,572.2 499.0,573.3 501.4,574.1C503.8,574.9 506.3,575.6 508.7,575.2C511.1,574.8 513.8,573.5 516.0,571.9C518.2,570.3 520.3,567.7 521.8,565.4C523.2,563.1 523.7,560.5 524.7,558.1C525.7,555.7 527.0,554.1 527.6,550.8C528.2,547.5 528.4,540.5 528.6,538.4" fill="none" stroke="#000" stroke-width="3.3" stroke-dasharray="5.9 2.9"/>
<path d="M528.6,538.4C528.2,537.7 527.4,536.1 526.4,534.2C525.4,532.3 523.9,529.5 522.9,527.1C521.9,524.8 520.8,522.3 520.3,520.1C519.8,517.9 519.6,515.8 519.8,514.0C519.9,512.2 520.4,510.7 521.2,509.6C522.0,508.5 523.5,507.2 524.7,507.4C525.9,507.5 526.9,509.7 528.2,510.5C529.5,511.3 531.0,512.3 532.5,512.3C534.0,512.3 535.6,511.2 536.9,510.5C538.1,509.8 538.9,508.9 540.0,508.3C541.1,507.7 542.1,506.7 543.7,507.0C545.3,507.3 547.5,508.4 549.5,509.9C551.5,511.3 553.2,513.5 555.4,515.7C557.6,517.9 560.3,520.6 562.7,523.0C565.1,525.4 568.0,527.6 570.0,530.3C572.0,533.0 573.5,536.2 574.4,539.1C575.2,542.0 575.5,545.2 575.1,547.9C574.7,550.6 573.8,553.0 572.2,555.2C570.6,557.4 568.2,559.1 565.6,561.0C563.0,562.9 559.7,565.1 556.8,566.8C553.9,568.5 550.8,570.1 548.1,571.2C545.4,572.3 543.0,573.4 540.8,573.4C538.6,573.4 536.6,572.8 534.9,571.2C533.2,569.6 531.6,566.3 530.6,563.9C529.6,561.5 529.4,559.0 529.1,556.6C528.8,554.2 528.8,552.3 528.7,549.3C528.6,546.3 528.6,540.2 528.6,538.4" fill="none" stroke="#000" stroke-width="3.3" stroke-dasharray="5.9 2.9"/>
<path d="M528.6,414.7C532.2,414.8 536.2,414.7 540.7,415.3C545.1,415.9 551.0,417.1 555.2,418.2C559.4,419.3 562.3,420.5 565.9,421.9C569.4,423.2 572.8,424.5 576.5,426.3C580.2,428.1 584.3,430.2 588.2,432.8C592.1,435.4 596.1,438.4 599.8,441.6C603.4,444.8 606.9,448.3 610.0,451.8C613.2,455.3 616.0,459.0 618.7,462.8C621.3,466.6 623.8,470.6 626.0,474.5C628.2,478.4 630.1,482.5 631.8,486.1C633.5,489.8 635.0,493.3 636.1,496.4C637.3,499.5 638.0,501.7 638.8,504.5C639.6,507.3 640.3,510.0 640.8,513.4C641.3,516.8 641.8,520.9 641.9,525.0C642.0,529.1 641.9,534.0 641.4,538.2C640.9,542.4 639.8,546.5 638.8,550.0C637.9,553.5 637.1,556.0 635.8,559.3C634.6,562.6 633.0,566.6 631.2,569.9C629.5,573.2 627.5,576.3 625.4,579.2C623.2,582.1 620.9,584.9 618.4,587.4C615.9,589.9 613.1,592.4 610.2,594.4C607.3,596.4 604.0,598.0 601.0,599.1C597.9,600.2 594.8,600.8 591.7,601.2C588.6,601.6 584.5,601.2 582.3,601.4C580.1,601.6 579.6,602.1 578.6,602.6C577.6,603.1 576.9,603.7 576.2,604.6C575.5,605.5 575.1,606.4 574.4,608.2C573.8,610.0 573.5,613.2 572.5,615.4C571.4,617.6 569.6,619.7 568.4,621.2C567.1,622.8 566.8,622.9 564.9,624.7C562.9,626.5 559.8,629.8 556.7,631.8C553.6,633.8 549.9,635.5 546.5,636.9C543.2,638.3 539.4,639.4 536.4,640.1C533.4,640.8 530.8,640.9 528.4,641.0C526.0,641.1 524.6,641.0 521.8,640.6C519.0,640.2 515.0,639.6 511.7,638.4C508.3,637.2 504.7,635.2 501.5,633.3C498.3,631.3 494.7,628.2 492.7,626.7C490.8,625.2 491.0,625.5 489.6,624.2C488.3,622.9 486.1,620.8 484.9,618.9C483.6,617.0 482.8,615.2 482.0,613.1C481.1,611.0 480.5,608.3 479.8,606.1C479.1,603.9 478.5,602.0 477.9,599.9C476.0,599.0 474.4,597.8 472.1,597.3C469.8,596.8 466.5,597.0 463.9,596.7C461.4,596.4 459.5,596.3 456.9,595.5C454.4,594.7 451.5,593.8 448.8,592.0C446.1,590.2 443.2,587.6 440.7,585.0C438.2,582.4 435.9,579.2 433.7,576.3C431.6,573.4 429.6,570.5 427.9,567.5C426.1,564.5 424.4,561.1 423.2,558.2C421.9,555.3 421.2,553.3 420.3,550.0C419.4,546.7 418.4,542.4 417.8,538.2C417.2,534.0 416.9,529.1 416.8,525.0C416.8,520.9 417.0,517.3 417.5,513.4C418.0,509.5 418.9,505.0 419.7,501.7C420.5,498.4 421.1,496.2 422.1,493.5C423.0,490.8 424.0,488.6 425.5,485.4C426.9,482.2 428.6,478.1 430.6,474.5C432.7,470.9 435.3,467.1 437.9,463.5C440.6,459.9 443.7,455.9 446.6,452.6C449.5,449.3 452.5,446.5 455.4,443.8C458.3,441.1 461.1,438.7 464.0,436.5C466.9,434.3 469.9,432.4 472.8,430.7C475.7,428.9 478.3,427.5 481.2,426.0C484.0,424.5 485.9,423.2 489.7,421.7C493.6,420.2 499.4,418.1 504.3,417.0C509.1,415.9 514.8,415.4 518.8,415.0C522.9,414.6 525.0,414.6 528.6,414.7Z" fill="none" stroke="#00f" stroke-width="3.6" stroke-linejoin="round"/>
<text transform="translate(201.70,395.40) scale(1,1.13)" font-size="11.8" text-anchor="middle">0</text>
<text transform="translate(277.70,420.10) scale(1,1.13)" font-size="11.8" text-anchor="middle">30</text>
<text transform="translate(331.60,463.90) scale(1,1.13)" font-size="11.8" text-anchor="middle">60</text>
<text transform="translate(333.00,614.80) scale(1,1.13)" font-size="11.8" text-anchor="middle">120</text>
<text transform="translate(279.60,668.00) scale(1,1.13)" font-size="11.8" text-anchor="middle">150</text>
<text transform="translate(124.00,668.00) scale(1,1.13)" font-size="11.8" text-anchor="middle">210</text>
<text transform="translate(65.30,615.40) scale(1,1.13)" font-size="11.8" text-anchor="middle">240</text>
<text transform="translate(67.00,469.30) scale(1,1.13)" font-size="11.8" text-anchor="middle">300</text>
<text transform="translate(120.20,415.00) scale(1,1.13)" font-size="11.8" text-anchor="middle">330</text>
<text transform="translate(530.00,395.40) scale(1,1.13)" font-size="11.8" text-anchor="middle">0</text>
<text transform="translate(605.90,420.10) scale(1,1.13)" font-size="11.8" text-anchor="middle">30</text>
<text transform="translate(659.80,463.90) scale(1,1.13)" font-size="11.8" text-anchor="middle">60</text>
<text transform="translate(661.20,614.80) scale(1,1.13)" font-size="11.8" text-anchor="middle">120</text>
<text transform="translate(607.80,668.00) scale(1,1.13)" font-size="11.8" text-anchor="middle">150</text>
<text transform="translate(452.20,668.00) scale(1,1.13)" font-size="11.8" text-anchor="middle">210</text>
<text transform="translate(393.50,615.40) scale(1,1.13)" font-size="11.8" text-anchor="middle">240</text>
<text transform="translate(395.20,469.30) scale(1,1.13)" font-size="11.8" text-anchor="middle">300</text>
<text transform="translate(448.40,415.00) scale(1,1.13)" font-size="11.8" text-anchor="middle">330</text>
<text transform="translate(351.70,541.90) scale(1,1.13)" font-size="11.8" text-anchor="middle">90</text>
<text transform="translate(51.00,543.10) scale(1,1.13)" font-size="11.8" text-anchor="middle">270</text>
<text transform="translate(379.40,543.40) scale(1,1.13)" font-size="11.8" text-anchor="middle">270</text>
<text transform="translate(679.50,541.90) scale(1,1.13)" font-size="11.8" text-anchor="middle">90</text>
<rect x="137.0" y="675.6" width="126.9" height="30.3" rx="0.8" fill="none" stroke="#383838" stroke-width="1.4"/>
<rect x="466.5" y="675.6" width="127.1" height="30.3" rx="0.8" fill="none" stroke="#383838" stroke-width="1.4"/>
<text x="200.6" y="697" font-size="18" text-anchor="middle">Conventional</text>
<text x="530" y="697" font-size="18" text-anchor="middle">Proposed</text>
<text transform="translate(202.70,693.60) scale(1,1.13)" font-size="11.8" text-anchor="middle">0</text>
<text transform="translate(529.90,693.60) scale(1,1.13)" font-size="11.8" text-anchor="middle">0</text>
<line x1="24.0" y1="721.5" x2="59.9" y2="721.5" stroke="#00f" stroke-width="2.2"/>
<line x1="190.95" y1="721.3" x2="227.0" y2="721.3" stroke="#f00" stroke-width="1.5" stroke-dasharray="7.9 2.8"/>
<line x1="345.95" y1="721.3" x2="382.0" y2="721.3" stroke="#008000" stroke-width="1.4" stroke-dasharray="7.9 3 2.3 3"/>
<line x1="511.3" y1="721.3" x2="546.4" y2="721.3" stroke="#000" stroke-width="1.8" stroke-dasharray="3.6 1.4"/>
<text x="61.9" y="727.5" font-size="18">Co.pol (E-plane)</text>
<text x="228.9" y="727.5" font-size="18">X.pol (E-plane)</text>
<text x="384.2" y="727.5" font-size="18">Co.pol (H-plane)</text>
<text x="548.6" y="727.5" font-size="18">X.pol (H-plane)</text>
<text x="342.6" y="759.3" font-size="18" text-anchor="middle">(b)</text>
</svg>
</body></html>
